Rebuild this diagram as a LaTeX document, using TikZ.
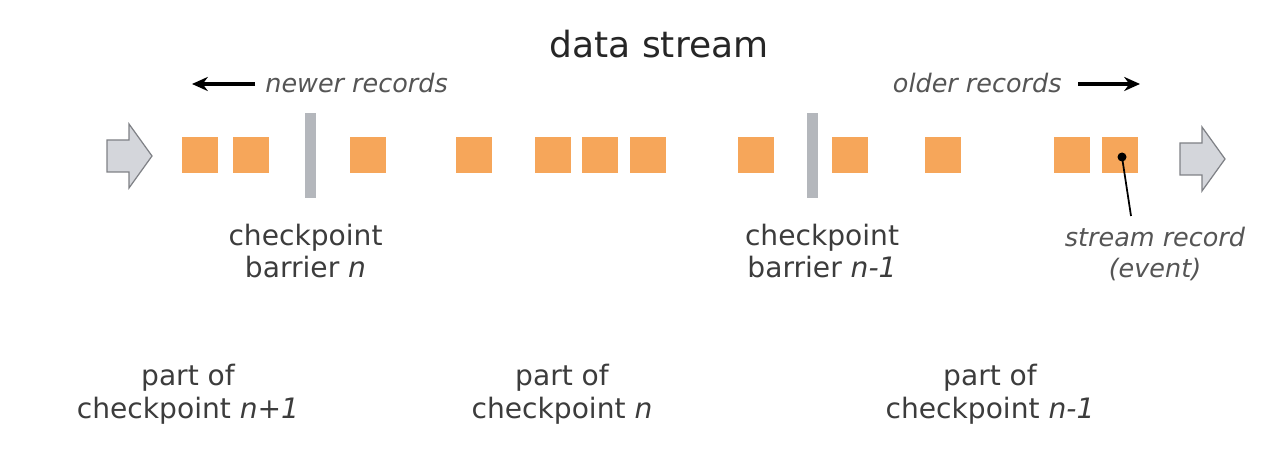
\documentclass[tikz,border=0pt]{standalone}
\usepackage{fontspec}
\setmainfont{DejaVu Sans}
\usetikzlibrary{arrows.meta, positioning, calc}
\definecolor{corange}{HTML}{F6A65A}
\definecolor{cbar}{HTML}{B4B7BC}
\definecolor{carrow}{HTML}{D4D6DB}
\definecolor{carrowline}{HTML}{7F8186}
\definecolor{ctext}{HTML}{3C3C3C}
\definecolor{citalic}{HTML}{555555}

\begin{document}
\begin{tikzpicture}[x=0.02cm, y=-0.02cm,
  record/.style={fill=corange, minimum size=0.72cm, inner sep=0pt},
  barrier/.style={fill=cbar, minimum width=0.22cm, minimum height=1.7cm, inner sep=0pt},
  lbl/.style={align=center, text=ctext, inner sep=0pt, font=\fontsize{16}{18.5}\selectfont},
  note/.style={text=citalic, inner sep=0pt, font=\fontsize{14.5}{18}\selectfont\itshape},
  dir/.style={line width=1.9pt, -{Stealth[length=9pt, width=8pt]}}]
  \useasboundingbox (0,0) rectangle (1274,475);

  % big grey arrows at both ends
  \foreach \x/\y in {107/156, 1180/159}{
    \filldraw[fill=carrow, draw=carrowline, line width=0.7pt]
      (\x,\y-16) -- ++(22,0) -- ++(0,-16) -- ++(23,32) -- ++(-23,32)
      -- ++(0,-16) -- ++(-22,0) -- cycle;
  }

  % stream records
  \foreach \x [count=\i] in {200,251,368,474,553,600,648,756,850,943,1072,1120}{
    \node[record] (r\i) at (\x,155) {};
  }

  % checkpoint barriers
  \node[barrier] (b1) at (310.5,155.5) {};
  \node[barrier] (b2) at (812.5,155.5) {};

  % header
  \node[text=black!85, inner sep=0pt, font=\fontsize{20.5}{24}\selectfont, anchor=base] (title) at (659,58) {data stream};
  \node[note, anchor=base west] (newer) at (265,93) {newer records};
  \node[note, anchor=base east] (older) at (1062,93) {older records};
  \coordinate (newtip) at (192,84);
  \coordinate (oldtip) at (1140,84);
  \draw[dir] (newer.west |- newtip) ++(-10,0) -- (newtip);
  \draw[dir] (older.east |- oldtip) ++(16,0) -- (oldtip);

  % labels under the stream
  \node[lbl] (bn) at (305.5,251) {checkpoint\\barrier \textit{n}};
  \node[lbl] (bn1) at (822,251) {checkpoint\\barrier \textit{n-1}};
  \node[note, align=center] (event) at (1155,254) {stream record\\(event)};
  \coordinate (evtip) at (1131,216);
  \fill (r12.center) ++(2,2) circle (4.5);
  \draw[line width=1pt] ($(r12.center)+(2,2)$) -- (evtip);

  \node[lbl] (p1) at (188,394) {part of\\checkpoint \textit{n+1}};
  \node[lbl] (p2) at (562,394) {part of\\checkpoint \textit{n}};
  \node[lbl] (p3) at (990,394) {part of\\checkpoint \textit{n-1}};
\end{tikzpicture}
\end{document}
